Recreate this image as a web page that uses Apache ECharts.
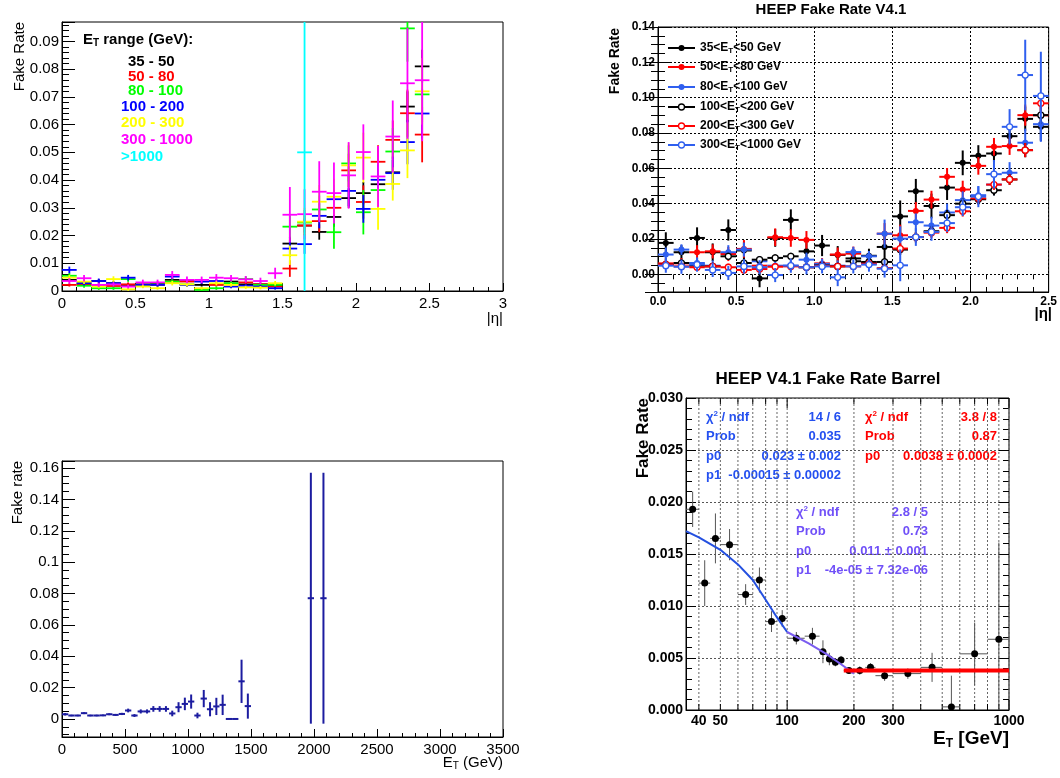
<!DOCTYPE html>
<html>
<head>
<meta charset="utf-8">
<script src="https://cdn.jsdelivr.net/npm/echarts@6.0.0/dist/echarts.min.js"></script>
<style>
  html, body { margin: 0; padding: 0; background: #fff; }
  #main { width: 1060px; height: 778px; }
</style>
</head>
<body>
<div id="main"></div>
<script>
// ---------- top left: fake rate vs |eta| for ET ranges ----------
const tlEta = [0.05,0.15,0.25,0.35,0.45,0.55,0.65,0.75,0.85,0.95,1.05,1.15,1.25,1.35,1.45,1.55,1.65,1.75,1.85,1.95,2.05,2.15,2.25,2.35,2.45];
const tlBlack   = [0.0040,0.0028,0.0036,0.0028,0.0022,0.0024,0.0028,0.0040,0.0036,0.0022,0.0024,0.0034,0.0024,0.0024,0.0019,0.0171,0.0236,0.0213,0.0267,0.0335,0.0353,0.0385,0.0428,0.0665,0.0810];
const tlRed     = [0.0022,0.0024,0.0022,0.0018,0.0024,0.0019,0.0022,0.0034,0.0034,0.0007,0.0022,0.0024,0.0031,0.0024,0.0016,0.0081,0.0236,0.0252,0.0300,0.0435,0.0321,0.0466,0.0545,0.0641,0.0564];
const tlGreen   = [0.0055,0.0019,0.0010,0.0010,0.0043,0.0022,0.0024,0.0034,0.0024,0.0004,0.0010,0.0028,0.0043,0.0022,0.0022,0.0232,0.0247,0.0294,0.0212,0.0460,0.0284,0.0364,0.0503,0.0947,0.0709];
const tlBlue    = [0.0076,0.0028,0.0036,0.0028,0.0048,0.0022,0.0022,0.0052,0.0022,0.0034,0.0036,0.0016,0.0019,0.0016,0.0010,0.0153,0.0169,0.0271,0.0331,0.0361,0.0296,0.0401,0.0425,0.0537,0.0640];
const tlYellow  = [0.0048,0.0034,0.0016,0.0043,0.0006,0.0016,0.0010,0.0028,0.0024,0.0010,0.0028,0.0022,0.0013,0.0012,0.0028,0.0129,0.0250,0.0322,0.0340,0.0453,0.0481,0.0296,0.0386,0.0507,0.0720];
const tlMagenta = [0.0036,0.0046,0.0022,0.0024,0.0016,0.0031,0.0031,0.0058,0.0040,0.0040,0.0048,0.0046,0.0042,0.0036,0.0064,0.0275,0.0277,0.0358,0.0353,0.0417,0.0501,0.0413,0.0557,0.0749,0.0760];
const tlBlackErr   = [0.0008,0.0006,0.0007,0.0006,0.0006,0.0006,0.0006,0.0008,0.0007,0.0006,0.0006,0.0007,0.0006,0.0006,0.0006,0.0025,0.0025,0.0028,0.0035,0.0035,0.0040,0.0040,0.0045,0.0055,0.0060];
const tlRedErr     = [0.0006,0.0006,0.0006,0.0006,0.0007,0.0006,0.0006,0.0008,0.0008,0.0005,0.0006,0.0006,0.0007,0.0006,0.0006,0.0030,0.0035,0.0040,0.0045,0.0060,0.0060,0.0060,0.0070,0.0085,0.0100];
const tlGreenErr   = [0.0010,0.0007,0.0006,0.0006,0.0010,0.0007,0.0007,0.0009,0.0008,0.0005,0.0006,0.0008,0.0010,0.0007,0.0007,0.0040,0.0045,0.0050,0.0060,0.0065,0.0080,0.0070,0.0085,0.0120,0.0100];
const tlBlueErr    = [0.0012,0.0008,0.0009,0.0008,0.0010,0.0007,0.0007,0.0010,0.0007,0.0008,0.0008,0.0006,0.0006,0.0006,0.0005,0.0030,0.0035,0.0045,0.0050,0.0055,0.0050,0.0055,0.0060,0.0080,0.0090];
const tlYellowErr  = [0.0010,0.0009,0.0006,0.0010,0.0005,0.0006,0.0005,0.0008,0.0008,0.0005,0.0008,0.0007,0.0006,0.0006,0.0008,0.0035,0.0050,0.0060,0.0065,0.0080,0.0090,0.0075,0.0060,0.0100,0.0120];
const tlMagentaErr = [0.0010,0.0012,0.0008,0.0008,0.0007,0.0010,0.0010,0.0014,0.0012,0.0012,0.0013,0.0012,0.0012,0.0012,0.0020,0.0100,0.0090,0.0110,0.0110,0.0120,0.0100,0.0110,0.0130,0.0200,0.0220];
const tlCyanEta = [1.65];
const tlCyan = [0.050];
const tlCyanErr = [0.050];
const tlLabels = ['35 - 50','50 - 80','80 - 100','100 - 200','200 - 300','300 - 1000','>1000'];

// ---------- top right: HEEP fake rate V4.1 ----------
const trEta = tlEta;
const trBlackF = [0.0178,0.0125,0.0206,0.0125,0.0251,0.0135,-0.0023,0.0206,0.0308,0.0130,0.0163,0.0110,0.0090,0.0105,0.0155,0.0328,0.0470,0.0387,0.0491,0.0631,0.0671,0.0684,0.0782,0.0880,0.0835];
const trRedF   = [0.0062,0.0062,0.0125,0.0130,0.0115,0.0144,0.0049,0.0210,0.0206,0.0195,0.0062,0.0112,0.0117,0.0066,0.0230,0.0221,0.0359,0.0423,0.0552,0.0480,0.0614,0.0722,0.0726,0.0901,0.0900];
const trBlueF  = [0.0112,0.0140,0.0064,0.0049,0.0125,0.0140,0.0074,0.0049,0.0049,0.0083,0.0059,0.0049,0.0126,0.0102,0.0230,0.0202,0.0295,0.0276,0.0350,0.0420,0.0448,0.0508,0.0575,0.0745,0.0850];
const trBlackO = [0.0055,0.0064,0.0049,0.0045,0.0102,0.0064,0.0083,0.0093,0.0102,0.0040,0.0050,0.0045,0.0074,0.0070,0.0070,0.0140,0.0211,0.0244,0.0335,0.0400,0.0425,0.0476,0.0537,0.0703,0.0901];
const trRedO   = [0.0055,0.0045,0.0040,0.0045,0.0040,0.0025,0.0030,0.0043,0.0045,0.0040,0.0048,0.0045,0.0045,0.0060,0.0035,0.0146,0.0211,0.0236,0.0263,0.0357,0.0430,0.0508,0.0537,0.0703,0.0968];
const trBlueO  = [0.0049,0.0043,0.0055,0.0025,0.0008,0.0045,0.0040,-0.0004,0.0049,0.0040,0.0045,-0.0017,0.0045,0.0055,0.0032,0.0051,0.0211,0.0240,0.0290,0.0380,0.0440,0.0567,0.0835,0.1128,0.1010];
const trBlackFErr = [0.006,0.004,0.006,0.005,0.006,0.005,0.005,0.005,0.006,0.005,0.006,0.005,0.004,0.004,0.007,0.009,0.007,0.007,0.007,0.007,0.006,0.005,0.005,0.007,0.008];
const trRedFErr   = [0.003,0.003,0.004,0.004,0.004,0.005,0.004,0.005,0.005,0.005,0.003,0.004,0.004,0.003,0.006,0.006,0.005,0.005,0.005,0.005,0.005,0.005,0.005,0.006,0.007];
const trBlueFErr  = [0.004,0.003,0.003,0.003,0.004,0.004,0.003,0.003,0.003,0.004,0.003,0.003,0.003,0.003,0.008,0.007,0.005,0.005,0.005,0.005,0.005,0.006,0.006,0.008,0.010];
const trBlackOErr = [0.002,0.002,0.002,0.002,0.002,0.002,0.002,0.002,0.002,0.002,0.002,0.002,0.002,0.002,0.002,0.003,0.003,0.003,0.003,0.003,0.003,0.003,0.003,0.004,0.005];
const trRedOErr   = [0.002,0.002,0.002,0.002,0.002,0.002,0.002,0.002,0.002,0.002,0.002,0.002,0.002,0.002,0.002,0.003,0.003,0.003,0.003,0.003,0.003,0.003,0.003,0.004,0.005];
const trBlueOErr  = [0.004,0.004,0.004,0.004,0.004,0.004,0.004,0.004,0.004,0.004,0.004,0.005,0.004,0.004,0.005,0.009,0.005,0.005,0.005,0.005,0.006,0.008,0.010,0.020,0.025];
const trLegend = [['35','50'],['50','80'],['80','100'],['100','200'],['200','300'],['300','1000']];

// ---------- bottom left: fake rate vs ET ----------
const blEt  = [25,75,125,175,225,275,325,375,425,475,525,575,625,675,725,775,825,875,925,975,1025,1075,1125,1175,1225,1275,1325,1375,1425,1475,1975,2075];
const blVal = [0.0030,0.0022,0.0022,0.0037,0.0022,0.0022,0.0023,0.0030,0.0026,0.0032,0.0054,0.0022,0.0048,0.0048,0.0064,0.0064,0.0064,0.0035,0.0075,0.0096,0.0111,0.0022,0.0130,0.0062,0.0080,0.0090,0,0,0.0240,0.0082,0.077,0.077];
const blErr = [0.0008,0.0005,0.0005,0.0006,0.0005,0.0005,0.0005,0.0006,0.0006,0.0007,0.0012,0.0009,0.0013,0.0013,0.0018,0.0018,0.0018,0.0018,0.0032,0.0040,0.0045,0.0018,0.0055,0.0045,0.0055,0.0065,0,0,0.0138,0.0080,0.080,0.080];

// ---------- bottom right: barrel fake rate vs ET (log x) ----------
const brLo  = [35,40,45,50,60,70,80,90,100,120,140,150,160,170,180,200,225,250,300,400,500,600,800];
const brHi  = [40,45,50,60,70,80,90,100,120,140,150,160,170,180,200,225,250,300,400,500,600,800,1000];
const brVal = [0.0193,0.0122,0.0165,0.0159,0.0111,0.0125,0.0085,0.0088,0.0069,0.0071,0.0056,0.0049,0.0046,0.0048,0.0038,0.0038,0.0041,0.0033,0.0035,0.0041,0.0003,0.0054,0.0068];
const brErr = [0.0017,0.0022,0.0024,0.0015,0.0010,0.0012,0.0010,0.0008,0.0006,0.0008,0.0011,0.0006,0.0004,0.0004,0.0003,0.0004,0.0004,0.0005,0.0005,0.0014,0.0030,0.0030,0.0093];
const brBlueFitX = [35,40,50,60,70,80,90,100];
const brBlueFitY = [0.0172,0.0166,0.0154,0.0140,0.0125,0.0106,0.0089,0.0075];
const brPurpleFitX = [100,125,150,175,200];
const brPurpleFitY = [0.0075,0.0064,0.0054,0.0044,0.0035];
const brRedFitX = [180,1000];
const brRedFitY = [0.0038,0.0038];
const brGridTicks = [40,50,60,70,80,90,100,200,300,400,500,600,700,800,900,1000];
const brTickLabels = [40,50,100,200,300,1000];
const brStatBlue = [['χ²','14 / 6'],['Prob','0.035'],['p0','0.023 ± 0.002'],['p1','-0.00015 ± 0.00002']];
const brStatRed = [['χ²','3.8 / 8'],['Prob','0.87'],['p0','0.0038 ± 0.0002']];
const brStatPurple = [['χ²','2.8 / 5'],['Prob','0.73'],['p0','0.011 ± 0.001'],['p1','-4e-05 ± 7.32e-06']];

const FONT = "'Liberation Sans', Arial, Helvetica, sans-serif";
const BR_YMIN = 0, BR_YMAX = 0.030;

function trim(v, d) { return String(+v.toFixed(d)); }

function errPoints(xs, ys, es, hw) {
  return xs.map(function (x, i) {
    return [x, ys[i], x - hw, x + hw, ys[i] - es[i], ys[i] + es[i]];
  });
}

function errRender(color, lw, marker, open, r, mcolor) {
  return function (params, api) {
    const x = api.value(0), y = api.value(1);
    const p = api.coord([x, y]);
    const l = api.coord([api.value(2), y]);
    const rr = api.coord([api.value(3), y]);
    const b = api.coord([x, api.value(4)]);
    const t = api.coord([x, api.value(5)]);
    const kids = [
      { type: 'line', shape: { x1: l[0], y1: p[1], x2: rr[0], y2: p[1] }, style: { stroke: color, lineWidth: lw } },
      { type: 'line', shape: { x1: p[0], y1: b[1], x2: p[0], y2: t[1] }, style: { stroke: color, lineWidth: lw } }
    ];
    if (marker) {
      const mc = mcolor || color;
      kids.push({ type: 'circle', shape: { cx: p[0], cy: p[1], r: r },
        style: open ? { fill: '#fff', stroke: mc, lineWidth: 1.3 } : { fill: mc } });
    }
    return { type: 'group', children: kids };
  };
}

function errSeries(xi, yi, data, color, lw, marker, open, r, mcolor) {
  return { type: 'custom', xAxisIndex: xi, yAxisIndex: yi, clip: true, silent: true,
    data: data, renderItem: errRender(color, lw, marker, open, r, mcolor) };
}

function valueAxis(gi, o) {
  return Object.assign({
    type: 'value', gridIndex: gi,
    axisLine: { show: true, onZero: false, lineStyle: { color: '#000', width: 1 } },
    axisTick: { show: true, inside: true, length: 8, lineStyle: { color: '#000' } },
    minorTick: { show: true, splitNumber: 5, length: 4, lineStyle: { color: '#000' } },
    splitLine: { show: false },
    axisLabel: { color: '#000', fontFamily: FONT, fontSize: 15, margin: 4 }
  }, o);
}

// ---------- series ----------
const series = [];
// top left
[[tlBlack, tlBlackErr, '#000000'], [tlRed, tlRedErr, '#ff0000'], [tlGreen, tlGreenErr, '#00ff00'],
 [tlBlue, tlBlueErr, '#0000ff'], [tlYellow, tlYellowErr, '#ffff00'], [tlMagenta, tlMagentaErr, '#ff00ff']]
  .forEach(function (s) { series.push(errSeries(0, 0, errPoints(tlEta, s[0], s[1], 0.05), s[2], 1.8, false)); });
series.push(errSeries(0, 0, errPoints(tlCyanEta, tlCyan, tlCyanErr, 0.05), '#00ffff', 1.8, false));

// top right
const trBlue = '#2f5fef';
[[trBlackF, trBlackFErr, '#000000', false], [trRedF, trRedFErr, '#ff0000', false], [trBlueF, trBlueFErr, trBlue, false],
 [trBlackO, trBlackOErr, '#000000', true], [trRedO, trRedOErr, '#ff0000', true], [trBlueO, trBlueOErr, trBlue, true]]
  .forEach(function (s) { series.push(errSeries(1, 1, errPoints(trEta, s[0], s[1], 0.05), s[2], 2, true, s[3], 3)); });

// bottom left
series.push(errSeries(2, 2, errPoints(blEt, blVal, blErr, 25), '#1c1ca0', 2, false));

// bottom right: log grid, ticks and labels
series.push({
  type: 'custom', xAxisIndex: 3, yAxisIndex: 3, silent: true, z: 1,
  data: brGridTicks.map(function (v) { return [v]; }),
  renderItem: function (params, api) {
    const v = api.value(0);
    const b = api.coord([v, BR_YMIN]);
    const t = api.coord([v, BR_YMAX]);
    const len = (v === 100 || v === 1000) ? 10 : 6;
    const kids = [
      { type: 'line', shape: { x1: b[0], y1: b[1], x2: t[0], y2: t[1] }, style: { stroke: '#666', lineWidth: 1, lineDash: [2, 2] } },
      { type: 'line', shape: { x1: b[0], y1: b[1], x2: b[0], y2: b[1] - len }, style: { stroke: '#000', lineWidth: 1 } },
      { type: 'line', shape: { x1: t[0], y1: t[1], x2: t[0], y2: t[1] + len }, style: { stroke: '#000', lineWidth: 1 } }
    ];
    if (brTickLabels.indexOf(v) >= 0) {
      kids.push({ type: 'text', x: b[0], y: b[1] + 4,
        style: { text: String(v), align: 'center', verticalAlign: 'top', fill: '#000', font: 'bold 14px ' + FONT } });
    }
    return { type: 'group', children: kids };
  }
});
series.push(errSeries(3, 3, brLo.map(function (lo, i) {
  const x = (lo + brHi[i]) / 2;
  return [x, brVal[i], lo, brHi[i], brVal[i] - brErr[i], brVal[i] + brErr[i]];
}), '#555', 1, true, false, 3.5, '#000'));
series.push({ type: 'line', xAxisIndex: 3, yAxisIndex: 3, showSymbol: false, silent: true,
  data: brBlueFitX.map(function (x, i) { return [x, brBlueFitY[i]]; }), lineStyle: { color: '#2450e0', width: 2 } });
series.push({ type: 'line', xAxisIndex: 3, yAxisIndex: 3, showSymbol: false, silent: true,
  data: brPurpleFitX.map(function (x, i) { return [x, brPurpleFitY[i]]; }), lineStyle: { color: '#7a5cf0', width: 2 } });
series.push({ type: 'line', xAxisIndex: 3, yAxisIndex: 3, showSymbol: false, silent: true,
  data: brRedFitX.map(function (x, i) { return [x, brRedFitY[i]]; }), lineStyle: { color: '#ff0000', width: 4 } });

// ---------- texts ----------
const graphic = [];
function txt(x, y, text, o) {
  graphic.push(Object.assign({ type: 'text', x: x, y: y, silent: true,
    style: Object.assign({ text: text, fill: '#000', font: '15px ' + FONT, align: 'left', verticalAlign: 'middle' }, o.style || {}) },
    o.rotation ? { rotation: o.rotation } : {}));
}
const subRich = function (size, bold) {
  const w = bold ? 'bold' : 'normal';
  return {
    a: { fontSize: size, fontWeight: w, fontFamily: FONT },
    s: { fontSize: Math.round(size * 0.65), fontWeight: w, fontFamily: FONT, padding: [Math.round(size * 0.45), 0, 0, 0] },
    sup: { fontSize: Math.round(size * 0.65), fontWeight: w, fontFamily: FONT, padding: [0, 0, Math.round(size * 0.45), 0] }
  };
};

// top left
txt(20, 22, 'Fake Rate', { rotation: Math.PI / 2, style: { align: 'right' } });
txt(503, 319, '|η|', { style: { align: 'right' } });
txt(83, 40, '{a|E}{s|T}{a| range (GeV):}', { style: { rich: subRich(15, true) } });
const tlColors = ['#000000', '#ff0000', '#00ff00', '#0000ff', '#ffff00', '#ff00ff', '#00ffff'];
const tlLabelX = [128, 128, 128, 121, 121, 121, 121];
const tlLabelY = [62, 77, 91, 107, 123, 140, 157];
tlLabels.forEach(function (s, i) {
  txt(tlLabelX[i], tlLabelY[i], s, { style: { fill: tlColors[i], font: 'bold 15px ' + FONT } });
});

// top right
txt(831, 10, 'HEEP Fake Rate V4.1', { style: { align: 'center', font: 'bold 15px ' + FONT } });
txt(615, 28, 'Fake Rate', { rotation: Math.PI / 2, style: { align: 'right', font: 'bold 14px ' + FONT } });
txt(1052, 314, '|η|', { style: { align: 'right', font: 'bold 15px ' + FONT } });
const trLegColors = ['#000000', '#ff0000', trBlue, '#000000', '#ff0000', trBlue];
const trLegY = [48, 67, 87, 107, 126, 145];
trLegend.forEach(function (r, i) {
  const c = trLegColors[i], open = i >= 3, y = trLegY[i];
  graphic.push({ type: 'line', silent: true, shape: { x1: 668, y1: y, x2: 695, y2: y }, style: { stroke: c, lineWidth: 2 } });
  graphic.push({ type: 'circle', silent: true, shape: { cx: 681.5, cy: y, r: 3 },
    style: open ? { fill: '#fff', stroke: c, lineWidth: 1.3 } : { fill: c } });
  txt(700, y, '{a|' + r[0] + '<E}{s|T}{a|<' + r[1] + ' GeV}', { style: { rich: subRich(12, true) } });
});

// bottom left
txt(18, 461, 'Fake rate', { rotation: Math.PI / 2, style: { align: 'right' } });
txt(503, 763, '{a|E}{s|T}{a| (GeV)}', { style: { align: 'right', rich: subRich(15, false) } });

// bottom right
txt(828, 379, 'HEEP V4.1 Fake Rate Barrel', { style: { align: 'center', font: 'bold 17px ' + FONT } });
txt(643, 398, 'Fake Rate', { rotation: Math.PI / 2, style: { align: 'right', font: 'bold 17px ' + FONT } });
txt(1009, 739, '{a|E}{s|T}{a| [GeV]}', { style: { align: 'right', rich: subRich(19, true) } });
function statBox(rows, xl, xr, y0, dy, color) {
  rows.forEach(function (r, i) {
    const y = y0 + i * dy;
    if (r[0] === 'χ²') {
      txt(xl, y, '{a|χ}{sup|2}{a| / ndf}', { style: { fill: color, rich: (function () {
        const rr = subRich(13, true); rr.a.color = color; rr.sup.color = color; return rr; })() } });
    } else {
      txt(xl, y, r[0], { style: { fill: color, font: 'bold 13px ' + FONT } });
    }
    txt(xr, y, r[1], { style: { fill: color, align: 'right', font: 'bold 13px ' + FONT } });
  });
}
statBox(brStatBlue, 706, 841, 417, 19.5, '#2450f0');
statBox(brStatRed, 865, 997, 417, 19.5, '#ff0000');
statBox(brStatPurple, 796, 928, 512, 19.5, '#7050f8');

// ---------- option ----------
const option = {
  backgroundColor: '#fff',
  animation: false,
  grid: [
    { left: 62, top: 22, width: 441, height: 269, show: true, borderColor: '#000', borderWidth: 1 },
    { left: 658, top: 27, width: 394, height: 265, show: true, borderColor: '#000', borderWidth: 1 },
    { left: 62, top: 461, width: 441, height: 276, show: true, borderColor: '#000', borderWidth: 1 },
    { left: 686, top: 398, width: 323, height: 312, show: true, borderColor: '#000', borderWidth: 1 }
  ],
  xAxis: [
    valueAxis(0, { min: 0, max: 3, interval: 0.5,
      axisLabel: { color: '#000', fontFamily: FONT, fontSize: 15, margin: 5, formatter: function (v) { return trim(v, 2); } } }),
    valueAxis(1, { min: 0, max: 2.5, interval: 0.5,
      axisTick: { show: true, inside: true, length: 10, lineStyle: { color: '#000' } },
      minorTick: { show: true, splitNumber: 5, length: 5, lineStyle: { color: '#000' } },
      splitLine: { show: true, lineStyle: { color: '#000', type: [2, 2], width: 1 } },
      axisLabel: { color: '#000', fontFamily: FONT, fontSize: 12, fontWeight: 'bold', margin: 4, formatter: function (v) { return v.toFixed(1); } } }),
    valueAxis(2, { min: 0, max: 3500, interval: 500,
      axisLabel: { color: '#000', fontFamily: FONT, fontSize: 15, margin: 5, formatter: function (v) { return String(v); } } }),
    { type: 'log', logBase: 10, gridIndex: 3, min: 35, max: 1000,
      axisLine: { show: true, onZero: false, lineStyle: { color: '#000' } },
      axisTick: { show: false }, axisLabel: { show: false }, splitLine: { show: false }, minorTick: { show: false } },
    valueAxis(1, { min: 0, max: 2.5, interval: 0.5, position: 'top', axisLine: { show: false },
      axisTick: { show: true, inside: true, length: 10, lineStyle: { color: '#000' } },
      minorTick: { show: true, splitNumber: 5, length: 5, lineStyle: { color: '#000' } },
      axisLabel: { show: false } })
  ],
  yAxis: [
    valueAxis(0, { min: 0, max: 0.097, interval: 0.01,
      axisTick: { show: true, inside: true, length: 13, lineStyle: { color: '#000' } },
      minorTick: { show: true, splitNumber: 5, length: 7, lineStyle: { color: '#000' } },
      axisLabel: { color: '#000', fontFamily: FONT, fontSize: 15, margin: 3, showMaxLabel: false,
        formatter: function (v) { return trim(v, 4); } } }),
    valueAxis(1, { min: -0.01, max: 0.14, splitNumber: 7,
      axisTick: { show: true, inside: true, length: 13, lineStyle: { color: '#000' } },
      minorTick: { show: true, splitNumber: 4, length: 7, lineStyle: { color: '#000' } },
      splitLine: { show: true, lineStyle: { color: '#000', type: [2, 2], width: 1 } },
      axisLabel: { color: '#000', fontFamily: FONT, fontSize: 12, fontWeight: 'bold', margin: 3, showMinLabel: false,
        formatter: function (v) { return v.toFixed(2); } } }),
    valueAxis(2, { min: -0.0115, max: 0.1645, splitNumber: 8,
      axisTick: { show: true, inside: true, length: 13, lineStyle: { color: '#000' } },
      minorTick: { show: true, splitNumber: 4, length: 7, lineStyle: { color: '#000' } },
      axisLabel: { color: '#000', fontFamily: FONT, fontSize: 15, margin: 3, showMinLabel: false, showMaxLabel: false,
        formatter: function (v) { return trim(v, 4); } } }),
    valueAxis(3, { min: BR_YMIN, max: BR_YMAX, interval: 0.005,
      axisTick: { show: true, inside: true, length: 10, lineStyle: { color: '#000' } },
      minorTick: { show: true, splitNumber: 5, length: 6, lineStyle: { color: '#000' } },
      splitLine: { show: true, lineStyle: { color: '#555', type: [2, 2], width: 1 } },
      axisLabel: { color: '#000', fontFamily: FONT, fontSize: 14, fontWeight: 'bold', margin: 3,
        formatter: function (v) { return v.toFixed(3); } } }),
    valueAxis(1, { min: -0.01, max: 0.14, splitNumber: 7, position: 'right', axisLine: { show: false },
      axisTick: { show: true, inside: true, length: 13, lineStyle: { color: '#000' } },
      minorTick: { show: true, splitNumber: 4, length: 7, lineStyle: { color: '#000' } },
      axisLabel: { show: false } }),
    valueAxis(3, { min: BR_YMIN, max: BR_YMAX, interval: 0.005, position: 'right', axisLine: { show: false },
      axisTick: { show: true, inside: true, length: 10, lineStyle: { color: '#000' } },
      minorTick: { show: true, splitNumber: 5, length: 6, lineStyle: { color: '#000' } },
      axisLabel: { show: false } })
  ],
  graphic: graphic,
  series: series
};

const chart = echarts.init(document.getElementById('main'), null, { renderer: 'canvas' });
chart.setOption(option);
</script>
</body>
</html>
